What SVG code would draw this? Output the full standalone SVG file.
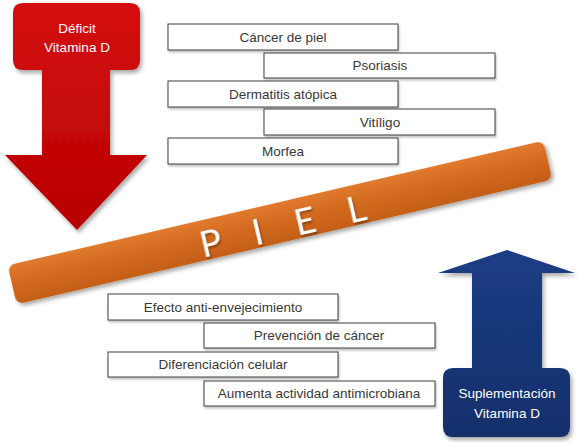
<svg xmlns="http://www.w3.org/2000/svg" width="580" height="442" viewBox="0 0 580 442">
<style>
.box{fill:#ffffff;stroke:#3f3f3f;stroke-width:1;filter:url(#bs)}
.bt{font-family:"Liberation Sans",Arial,sans-serif;font-size:13.5px;fill:#383838;text-anchor:middle}
.at{font-family:"Liberation Sans",Arial,sans-serif;font-size:13.5px;fill:#ffffff;text-anchor:middle}
</style>
<defs>
<filter id="sh" x="-10%" y="-10%" width="130%" height="130%">
<feGaussianBlur in="SourceAlpha" stdDeviation="2"/>
<feOffset dx="2" dy="3"/>
<feComponentTransfer><feFuncA type="linear" slope="0.35"/></feComponentTransfer>
<feMerge><feMergeNode/><feMergeNode in="SourceGraphic"/></feMerge>
</filter>
<filter id="ts" x="-10%" y="-20%" width="130%" height="150%">
<feGaussianBlur in="SourceAlpha" stdDeviation="0.8"/>
<feOffset dx="1" dy="1.5"/>
<feComponentTransfer><feFuncA type="linear" slope="0.4"/></feComponentTransfer>
<feMerge><feMergeNode/><feMergeNode in="SourceGraphic"/></feMerge>
</filter>
<filter id="bs" x="-5%" y="-20%" width="115%" height="160%">
<feGaussianBlur in="SourceAlpha" stdDeviation="1"/>
<feOffset dx="1" dy="2"/>
<feComponentTransfer><feFuncA type="linear" slope="0.25"/></feComponentTransfer>
<feMerge><feMergeNode/><feMergeNode in="SourceGraphic"/></feMerge>
</filter>
<linearGradient id="red" x1="0" y1="0" x2="0" y2="1">
<stop offset="0" stop-color="#d41010"/>
<stop offset="1" stop-color="#b80000"/>
</linearGradient>
<linearGradient id="blue" x1="0" y1="0" x2="0" y2="1">
<stop offset="0" stop-color="#1b3d84"/>
<stop offset="1" stop-color="#142f6b"/>
</linearGradient>
<linearGradient id="orange" x1="0" y1="0" x2="0" y2="1">
<stop offset="0" stop-color="#e07a2e"/>
<stop offset="0.5" stop-color="#d2691e"/>
<stop offset="1" stop-color="#c45f18"/>
</linearGradient>
</defs>

<g id="deficit">
<path d="M23,3 H130 Q140,3 140,13 V60 Q140,70 130,70 H110 V155 H147 L77,230 L5,155 H42 V70 H23 Q13,70 13,60 V13 Q13,3 23,3 Z" fill="url(#red)" filter="url(#sh)"/>
<text class="at" x="77" y="33">Déficit</text>
<text class="at" x="77" y="52">Vitamina D</text>
</g>

<g id="suplementacion">
<path d="M507,250 L575,273 H542 V368 H560 Q570,368 570,378 V427 Q570,437 560,437 H453 Q443,437 443,427 V378 Q443,368 453,368 H472 V273 H438 Z" fill="url(#blue)" filter="url(#sh)"/>
<text class="at" x="507" y="398">Suplementación</text>
<text class="at" x="507" y="418">Vitamina D</text>
</g>

<g id="piel" transform="translate(280,222.5) rotate(-13.1)">
<rect x="-275" y="-20" width="550" height="40" rx="7" fill="url(#orange)" filter="url(#sh)"/>
<text x="8" y="17" font-family="Lato,'Liberation Sans',sans-serif" font-size="36" fill="#ffffff" text-anchor="middle" letter-spacing="12" filter="url(#ts)">P I E L</text>
</g>

<g id="cancer-piel"><rect class="box" x="168" y="24" width="230" height="26"/><text class="bt" x="283" y="42">Cáncer de piel</text></g>
<g id="psoriasis"><rect class="box" x="264" y="53" width="231" height="25"/><text class="bt" x="380" y="70">Psoriasis</text></g>
<g id="dermatitis"><rect class="box" x="168" y="81" width="230" height="26"/><text class="bt" x="283" y="99">Dermatitis atópica</text></g>
<g id="vitiligo"><rect class="box" x="264" y="109" width="231" height="26"/><text class="bt" x="380" y="127">Vitíligo</text></g>
<g id="morfea"><rect class="box" x="168" y="138" width="230" height="26"/><text class="bt" x="283" y="156">Morfea</text></g>

<g id="antienvejecimiento"><rect class="box" x="108" y="294" width="230" height="26"/><text class="bt" x="223" y="312">Efecto anti-envejecimiento</text></g>
<g id="prevencion"><rect class="box" x="204" y="323" width="231" height="25"/><text class="bt" x="319" y="340">Prevención de cáncer</text></g>
<g id="diferenciacion"><rect class="box" x="108" y="352" width="230" height="25"/><text class="bt" x="223" y="369">Diferenciación celular</text></g>
<g id="antimicrobiana"><rect class="box" x="204" y="381" width="231" height="25"/><text class="bt" x="319" y="398">Aumenta actividad antimicrobiana</text></g>

<g id="connectors"></g>
</svg>
